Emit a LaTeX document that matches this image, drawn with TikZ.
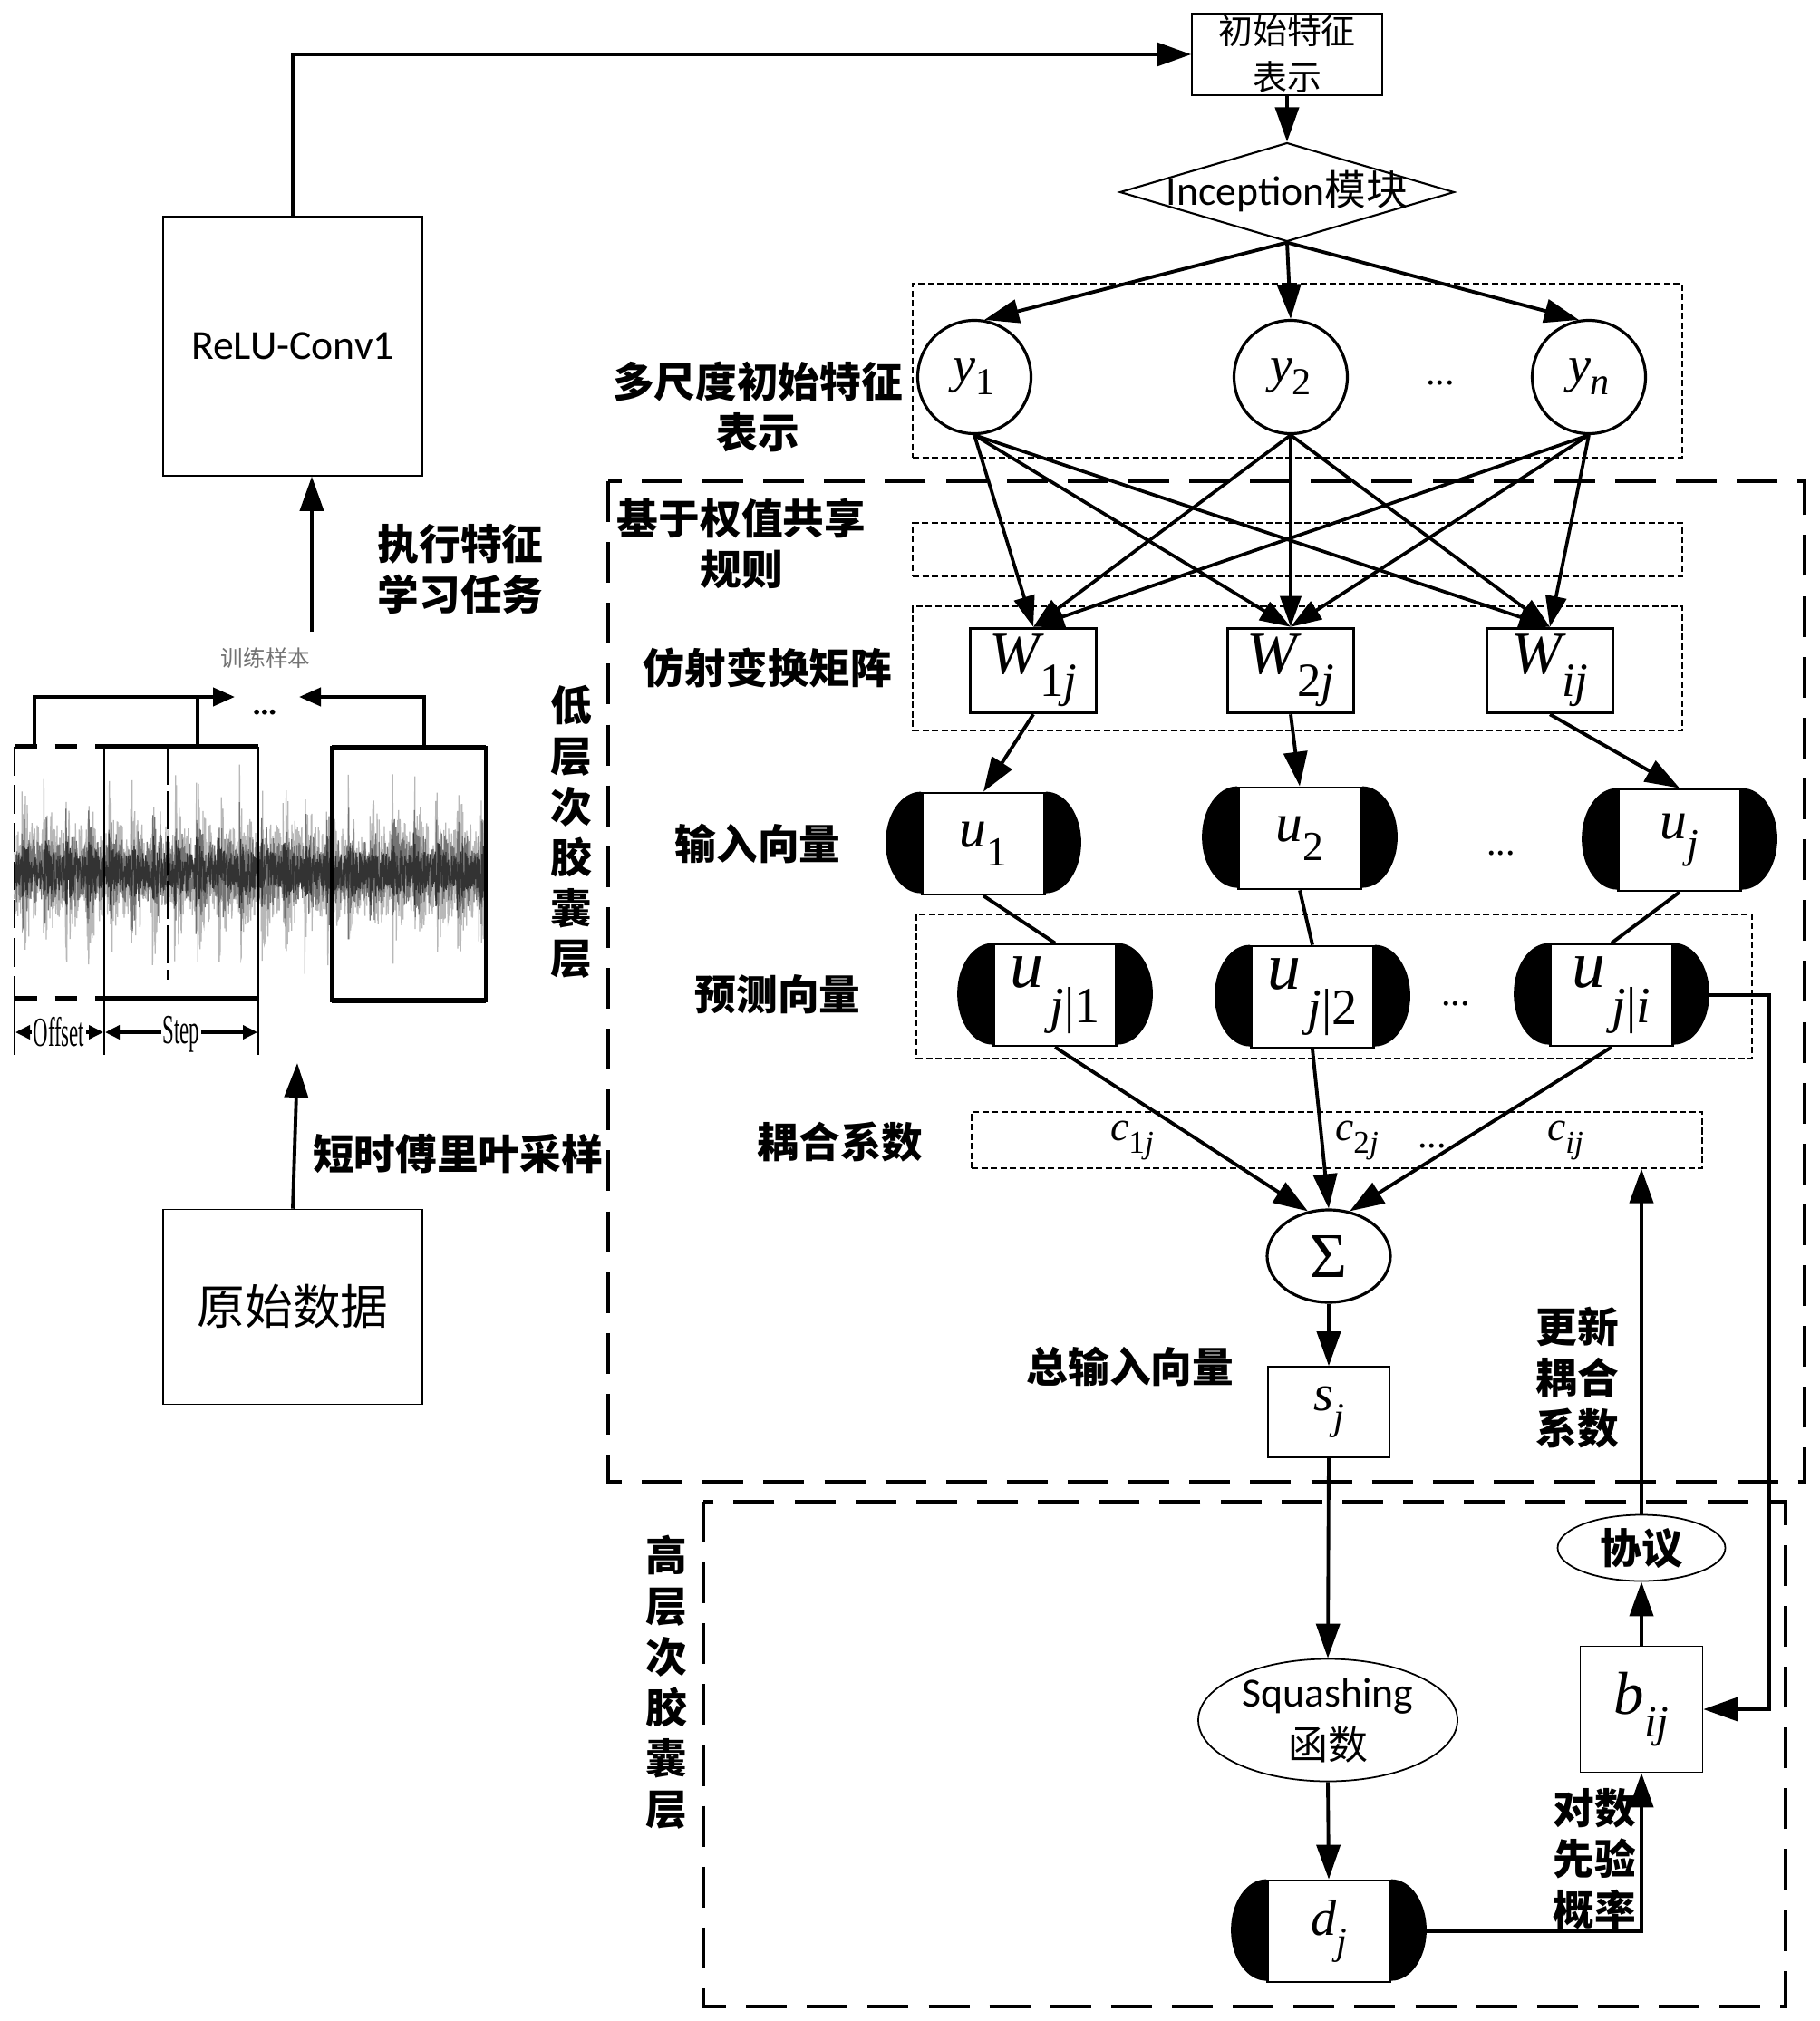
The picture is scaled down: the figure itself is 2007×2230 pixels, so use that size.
\documentclass[tikz,border=0pt]{standalone}
\usepackage{fontspec}
\usepackage{graphicx}
\setmainfont{Carlito}
\newfontfamily\cjk{Noto Sans CJK SC}
\newfontfamily\tms{Liberation Serif}
\usetikzlibrary{shapes.geometric,arrows.meta,calc}
\newcommand\tsub[5]{{\fontsize{#2}{#2}\selectfont\tms\itshape #1}\raisebox{#5}{\fontsize{#4}{#4}\selectfont\tms #3}}
\tikzset{
  conn/.style={line width=1.1pt},
  arr/.style={line width=1.1pt, -{Triangle[length=3.8mm,width=2.6mm]}},
  arrf/.style={line width=1.05pt, -{Triangle[length=3.4mm,width=2.3mm]}},
  arrs/.style={line width=1.2pt, -{Triangle[length=2.4mm,width=2mm]}},
  thinbox/.style={rectangle, draw, line width=0.45pt, inner sep=0pt},
  dotbox/.style={rectangle, draw, line width=0.35pt, dash pattern=on 2pt off 1pt, inner sep=0pt},
  bigdash/.style={line width=0.9pt, dash pattern=on 12.8pt off 6.3pt},
  lbl/.style={font=\cjk\bfseries\fontsize{13pt}{15.9pt}\selectfont, align=center, inner sep=0pt},
  ycirc/.style={circle, draw, line width=0.9pt, minimum size=12.5mm, inner sep=0pt},
  wbox/.style={rectangle, draw, line width=1pt, minimum width=13.9mm, minimum height=9.3mm, inner sep=0pt},
  capsule/.style={rectangle, draw, fill=white, line width=0.8pt, minimum width=13.5mm, minimum height=11.2mm, inner sep=0pt},
  dots/.style={font=\tms\fontsize{12pt}{12pt}\selectfont, inner sep=0pt},
  wavetxt/.style={font=\tms\fontsize{13pt}{13pt}\selectfont, fill=white, inner sep=0.5pt}
}
\begin{document}
\begin{tikzpicture}[x=0.1mm, y=-0.1mm]
\fill[white] (0,0) rectangle (2007,2230);
\useasboundingbox (0,0) rectangle (2007,2230);

% ---- big dashed regions
\draw[bigdash] (671,531) rectangle (1991,1635);
\draw[bigdash] (776,1657) rectangle (1970,2214);

% ---- dotted row boxes
\node[dotbox, minimum width=84.9mm, minimum height=19.2mm] (box1) at (1431.5,409) {};
\node[dotbox, minimum width=84.9mm, minimum height=5.9mm] (box2) at (1431.5,606.5) {};
\node[dotbox, minimum width=84.9mm, minimum height=13.7mm] (box3) at (1431.5,737.5) {};
\node[dotbox, minimum width=92.2mm, minimum height=15.9mm] (box4) at (1472,1088.5) {};
\node[dotbox, minimum width=80.6mm, minimum height=6.2mm] (cbox) at (1475,1258) {};

% ---- waveform illustration
\pgfmathsetseed{42}
\draw[black!28, line width=0.35pt] plot[domain=16:536, samples=1561, variable=\t] (\t, {962 + rand*(45 + 80*exp(-mod(\t,24)/7))});
\draw[black!55, line width=0.35pt] plot[domain=16:536, samples=1561, variable=\t] (\t, {962 + rand*(30 + 50*exp(-mod(\t,24)/7))});
\draw[black!80, line width=0.35pt] plot[domain=16:536, samples=1561, variable=\t] (\t, {962 + rand*(18 + 26*exp(-mod(\t,24)/7))});
\draw[line width=1.7pt, dash pattern=on 7pt off 5.7pt] (16,824) -- (115,824);
\draw[line width=1.7pt, dash pattern=on 7pt off 5.7pt] (16,1102) -- (115,1102);
\draw[line width=0.7pt, dash pattern=on 9pt off 3pt] (16,824) -- (16,1102);
\draw[line width=0.6pt] (115,824) -- (115,1102) (285,824) -- (285,1102);
\draw[line width=1.8pt] (115,824) -- (285,824) (115,1102) -- (285,1102);
\draw[line width=0.8pt, dash pattern=on 12pt off 2pt] (185,824) -- (185,1081);
\draw[line width=1pt] (366,825) rectangle (536,1104);
\draw[line width=1.8pt] (366,825) -- (536,825) (366,1104) -- (536,1104);
\draw[arrs] (38,824) -- (38,769) -- (259,769);
\draw[line width=1.2pt] (218,769) -- (218,824);
\draw[arrs] (468,826) -- (468,769) -- (330,769);
\node[font=\tms\bfseries\fontsize{10pt}{10pt}\selectfont, inner sep=0pt] (tdots) at (292,786) {...};
\draw[line width=0.5pt] (16,1102) -- (16,1164) (115,1102) -- (115,1164) (285,1102) -- (285,1164);
\draw[line width=1pt, {Triangle[length=1.6mm,width=1.5mm]}-{Triangle[length=1.6mm,width=1.5mm]}] (17,1139) -- (114,1139);
\draw[line width=1pt, {Triangle[length=1.6mm,width=1.5mm]}-{Triangle[length=1.6mm,width=1.5mm]}] (116,1139) -- (284,1139);
\node[wavetxt] (offs) at (65,1139) {\scalebox{0.5}[1]{Offset}};
\node[wavetxt] (stp) at (200,1141) {\scalebox{0.5}[1]{Step}};
\node[font=\cjk\fontsize{7pt}{8pt}\selectfont, text=black!55, inner sep=0pt] (train) at (293,726) {训练样本};

% ---- left column nodes
\node[thinbox, minimum width=28.6mm, minimum height=28.6mm, font=\fontsize{13pt}{15pt}\selectfont] (relu) at (323,382) {ReLU-Conv1};
\node[thinbox, minimum width=28.6mm, minimum height=21.5mm, font=\cjk\fontsize{15pt}{18pt}\selectfont] (raw) at (323,1442) {原始数据};
\coordinate (ta) at (344,697);
\coordinate (wb) at (328,1173);

% ---- top nodes
\node[thinbox, minimum width=21mm, minimum height=9mm, align=center, font=\cjk\fontsize{10.8pt}{14.5pt}\selectfont] (init) at (1420,60) {初始特征\\表示};
\node[diamond, draw, line width=0.6pt, minimum width=36.9mm, minimum height=10.9mm, inner sep=0pt, shape aspect=3.4, font=\fontsize{13pt}{15pt}\selectfont] (inc) at (1420,212) {\raisebox{-4pt}[0pt][0pt]{Inception{\cjk 模块}}};

\node[ycirc] (y1) at (1075,416) {\tsub{y}{16pt}{1}{12pt}{-4pt}};
\node[ycirc] (y2) at (1424,416) {\tsub{y}{16pt}{2}{12pt}{-4pt}};
\node[ycirc] (yn) at (1753,416) {\tsub{y}{16pt}{\itshape n}{12pt}{-4pt}};
\node[dots] (ydots) at (1589,423) {...};

\node[wbox] (W1) at (1140,740) {\tsub{W}{19pt}{1\itshape j}{15pt}{-7pt}};
\node[wbox] (W2) at (1424,740) {\tsub{W}{19pt}{2\itshape j}{15pt}{-7pt}};
\node[wbox] (W3) at (1710,740) {\tsub{W}{19pt}{\itshape ij}{15pt}{-7pt}};

\node[capsule] (u1) at (1085,931) {\tsub{u}{17pt}{1}{13pt}{-6pt}};
\node[capsule] (u2) at (1434,925) {\tsub{u}{17pt}{2}{13pt}{-6pt}};
\node[capsule] (uj) at (1853,927) {\tsub{u}{17pt}{\itshape j}{13pt}{-6pt}};
\node[dots] (udots) at (1656,942) {...};

\node[capsule] (pr1) at (1164,1098) {\tsub{u}{21pt}{\kern2pt{\itshape j}|1}{16pt}{-11pt}};
\node[capsule] (pr2) at (1448,1100) {\tsub{u}{21pt}{\kern2pt{\itshape j}|2}{16pt}{-11pt}};
\node[capsule] (pri) at (1778,1098) {\tsub{u}{21pt}{\kern2pt{\itshape j}|{\itshape i}}{16pt}{-11pt}};
\node[dots] (pdots) at (1606,1108) {...};

\node[inner sep=0pt] (c1) at (1249,1258) {\tsub{c}{13pt}{1\itshape j}{10pt}{-4pt}};
\node[inner sep=0pt] (c2) at (1497,1258) {\tsub{c}{13pt}{2\itshape j}{10pt}{-4pt}};
\node[dots] (cdots) at (1580,1265) {...};
\node[inner sep=0pt] (cij) at (1727,1258) {\tsub{c}{13pt}{\itshape ij}{10pt}{-4pt}};

\node[ellipse, draw, line width=0.9pt, minimum width=13.6mm, minimum height=10.2mm, inner sep=0pt, font=\tms\fontsize{20pt}{20pt}\selectfont] (sigma) at (1466,1386) {Σ};
\node[thinbox, minimum width=13.4mm, minimum height=10mm] (sj) at (1466,1558) {\tsub{s}{16pt}{\itshape j}{12pt}{-6pt}};
\node[ellipse, draw, line width=0.5pt, minimum width=28.6mm, minimum height=13.5mm, inner sep=0pt, align=center, font=\fontsize{13pt}{16.5pt}\selectfont] (sq) at (1465,1898) {Squashing\\{\cjk\fontsize{12.5pt}{16.5pt}\selectfont 函数}};
\node[capsule] (dj) at (1466,2131) {\tsub{d}{16pt}{\itshape j}{12pt}{-6pt}};
\node[thinbox, minimum width=13.5mm, minimum height=13.9mm] (bij) at (1811,1886) {\tsub{b}{19pt}{\itshape ij}{14pt}{-7pt}};
\node[ellipse, draw, line width=0.5pt, minimum width=18.5mm, minimum height=7.3mm, inner sep=0pt, font=\cjk\bfseries\fontsize{13pt}{15pt}\selectfont] (xy) at (1811,1708) {协议};
\coordinate (rx) at (1952,0);

% ---- labels
\node[lbl] (lowlbl) at (630,918) {低\\层\\次\\胶\\囊\\层};
\node[lbl] (highlbl) at (735,1856) {高\\层\\次\\胶\\囊\\层};
\node[lbl] (l1) at (836,449) {多尺度初始特征\\表示};
\node[lbl] (l2) at (818,600) {基于权值共享\\规则};
\node[lbl] (l3) at (847,737) {仿射变换矩阵};
\node[lbl] (l4) at (836,931) {输入向量};
\node[lbl] (l5) at (858,1097) {预测向量};
\node[lbl] (l6) at (927,1260) {耦合系数};
\node[lbl] (l7) at (1247,1508) {总输入向量};
\node[lbl] (l8) at (1740,1520) {更新\\耦合\\系数};
\node[lbl] (l9) at (1759,2051) {对数\\先验\\概率};
\node[lbl] (l10) at (508,628) {执行特征\\学习任务};
\node[lbl] (l11) at (505,1273) {短时傅里叶采样};

% ---- connectors
\draw[arr] (relu.north) |- (init.west);
\draw[arr] (ta) -- (ta |- relu.south);
\draw[arr] (raw.north) -- (wb);
\draw[arr] (init.south) -- (inc.north);
\draw[arr] (inc.south) -- (y1.80);
\draw[arr] (inc.south) -- (y2.north);
\draw[arr] (inc.south) -- (yn.100);
\foreach \a in {y1,y2,yn} \foreach \b in {W1,W2,W3} \draw[arrf] (\a.south) -- (\b.north);
\draw[arr] (W1.south) -- (u1.north);
\draw[arr] (W2.south) -- (u2.north);
\draw[arr] (W3.south) -- (uj.north);
\draw[conn] (u1.south) -- (pr1.north);
\draw[conn] (u2.south) -- (pr2.north);
\draw[conn] (uj.south) -- (pri.north);
\draw[arr] (pr1.south) -- (sigma.115);
\draw[arr] (pr2.south) -- (sigma.north);
\draw[arr] (pri.south) -- (sigma.65);
\draw[arr] (sigma.south) -- (sj.north);
\draw[arr] (sj.south) -- (sq.north);
\draw[arr] (sq.south) -- (dj.north);
\draw[arr] (dj.east) -| (bij.south);
\draw[arr] (pri.east) -- (pri.east -| rx) |- (bij.east);
\draw[arr] (bij.north) -- (xy.south);
\draw[arr] (xy.north) -- (xy.north |- cbox.south);

% ---- capsule caps
\foreach \n in {u1,u2,uj,pr1,pr2,pri,dj} {
  \fill (\n.north west) arc[start angle=90, end angle=270, x radius=3.9mm, y radius=5.6mm] -- cycle;
  \fill (\n.north east) arc[start angle=90, end angle=-90, x radius=3.9mm, y radius=5.6mm] -- cycle;
}
\end{tikzpicture}
\end{document}
